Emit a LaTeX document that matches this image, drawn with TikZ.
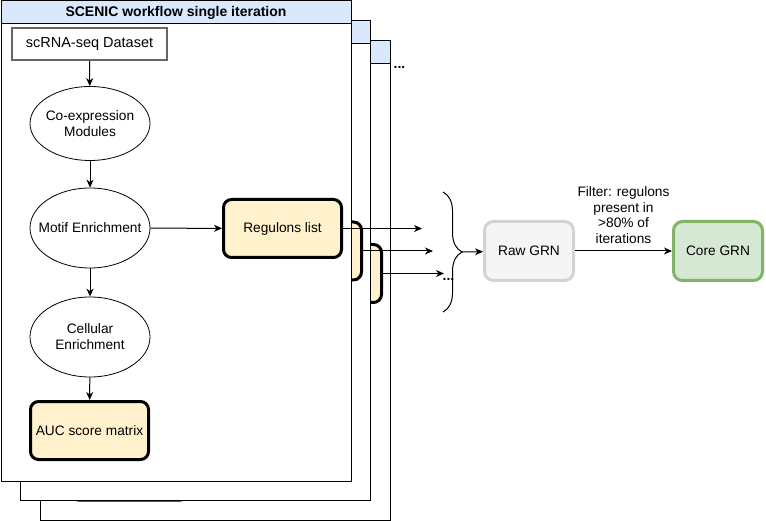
\documentclass[tikz,border=0pt]{standalone}
\usepackage{fontspec}
\setmainfont{Liberation Sans}
\usetikzlibrary{arrows.meta, positioning, shapes.geometric, decorations.pathreplacing}
\definecolor{titleblue}{HTML}{DAE8FC}
\definecolor{regyellow}{HTML}{FFF2CC}
\definecolor{rawfill}{HTML}{F5F5F5}
\definecolor{rawedge}{HTML}{D3D3D3}
\definecolor{corefill}{HTML}{D5E8D4}
\definecolor{coreedge}{HTML}{82B366}
\definecolor{dataedge}{HTML}{666666}

\begin{document}
\begin{tikzpicture}[x=1pt, y=-1pt,
  every node/.style={font=\fontsize{13.7}{16}\selectfont},
  panel/.style={rectangle, draw, fill=white, line width=1pt, anchor=north west,
    minimum width=350pt, minimum height=480pt, inner sep=0pt},
  titlebar/.style={rectangle, draw, fill=titleblue, line width=1pt, anchor=north west,
    minimum width=350pt, minimum height=23pt, inner sep=0pt,
    font=\fontsize{14}{16}\selectfont\bfseries},
  databox/.style={rectangle, draw=dataedge, line width=1.6pt,
    minimum width=155pt, minimum height=32pt, font=\fontsize{14.5}{16}\selectfont},
  stepnode/.style={ellipse, draw, line width=0.8pt, minimum width=120pt, minimum height=80pt,
    inner xsep=-14pt, inner ysep=0pt, align=center},
  resbox/.style={rectangle, draw, line width=3pt, rounded corners=8pt, fill=regyellow,
    minimum width=118pt, minimum height=58pt},
  grnbox/.style={rectangle, line width=3pt, rounded corners=9pt,
    minimum width=89pt, minimum height=59pt},
  flow/.style={-{Stealth[length=8pt, width=7pt, inset=2.5pt]}, line width=1pt},
]
  \useasboundingbox (0,0) rectangle (766,521);

  % stacked iterations behind
  \node[panel] (frame3) at (40,40) {};
  \node[titlebar] (title3) at (40,40) {};
  \node[resbox] (reg3) at (322.5,273.5) {};
  \node[resbox] (auc3) at (129.5,471) {};

  \node[panel] (frame2) at (20,20) {};
  \node[titlebar] (title2) at (20,20) {};
  \node[resbox] (reg2) at (302.5,251) {};
  \node[resbox] (auc2) at (109.5,451) {};

  % front iteration
  \node[panel] (frame1) at (0.5,0.5) {};
  \node[titlebar] (title1) at (0.5,0.5) {SCENIC workflow single iteration};
  \node[font=\fontsize{14}{16}\selectfont\bfseries] (moreframes) at (399.5,67) {...};

  \node[databox] (data) at (89.5,44) {scRNA-seq Dataset};
  \node[stepnode, minimum height=74pt] (coexp) at (90,123.5) {Co-expression\\Modules};
  \node[stepnode] (motif) at (90,228) {Motif Enrichment};
  \node[stepnode] (cellular) at (90,337) {Cellular\\Enrichment};
  \node[resbox] (auc1) at (89.5,430.5) {AUC score matrix};
  \node[resbox] (reg1) at (282.5,228.5) {Regulons list};

  \draw[flow] (data) -- (coexp);
  \draw[flow] (coexp) -- (motif);
  \draw[flow] (motif) -- (cellular);
  \draw[flow] (cellular) -- (auc1);
  \draw[flow] (motif) -- (reg1);

  % regulon lists into the merge
  \coordinate (in1) at (422,228.5);
  \coordinate (in2) at (433,251);
  \coordinate (in3) at (444,273.5);
  \draw[flow] (reg1.east) -- (in1);
  \draw[flow] (reg2.east) -- (in2);
  \draw[flow] (reg3.east) -- (in3);
  \node[font=\fontsize{14}{16}\selectfont\bfseries] (morelists) at (448.5,279) {...};

  \coordinate (btop) at (443,192);
  \coordinate (bbot) at (443,312);
  \coordinate (btip) at (462,252);
  \draw[decorate, decoration={brace, amplitude=19pt}, line width=1pt] (btop) -- (bbot);

  % GRN
  \node[grnbox, draw=rawedge, fill=rawfill] (rawgrn) at (529,251) {Raw GRN};
  \node[grnbox, draw=coreedge, fill=corefill] (coregrn) at (718,251) {Core GRN};

  \draw[flow] (btip) -- (rawgrn);
  \draw[flow] (rawgrn) -- node[above=4pt, align=center, font=\fontsize{13.7}{15.5}\selectfont]
    {Filter: regulons\\present in\\>80\% of\\iterations} (coregrn);
\end{tikzpicture}
\end{document}
